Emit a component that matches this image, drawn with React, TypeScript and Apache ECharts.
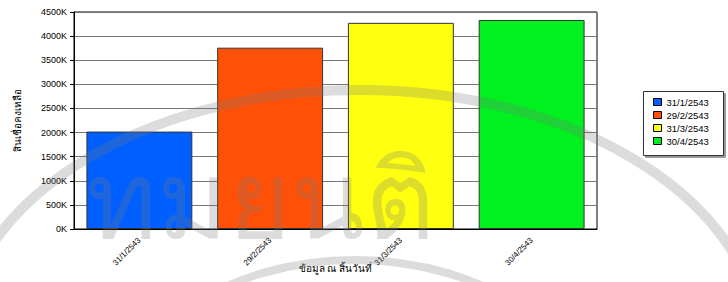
import React, { useEffect, useRef } from "react";
import * as echarts from "echarts";

const categories = ["31/1/2543", "29/2/2543", "31/3/2543", "30/4/2543"];
const seriesNames = ["31/1/2543", "29/2/2543", "31/3/2543", "30/4/2543"];
const values = [2020, 3760, 4275, 4335]; // in K
const colors = ["#0060ff", "#ff5008", "#ffff10", "#00f020"];
const yTicks = { min: 0, max: 4500, interval: 500 };
const yTitle = "สินเชื่อคงเหลือ";
const xTitle = "ข้อมูล ณ สิ้นวันที่";
const watermarkText = "ทมยนติ";

export default function App() {
  const ref = useRef<HTMLDivElement>(null);
  useEffect(() => {
    if (!ref.current) return;
    const chart = echarts.init(ref.current, null, { renderer: "svg" });
    const font = "Tahoma, 'Liberation Sans', Arial, sans-serif";
    const series = seriesNames.map((name, i) => ({
      name,
      type: "bar",
      stack: "all",
      barWidth: "81%",
      data: categories.map((_, j) => (j === i ? values[i] : null)),
      itemStyle: { color: colors[i], borderColor: "#333", borderWidth: 1 },
    }));
    const wm = "rgba(120,120,120,0.26)";
    chart.setOption({
      animation: false,
      backgroundColor: "#fff",
      grid: {
        left: 74, top: 12, right: 131, bottom: 53,
        outerBoundsMode: "none",
        containLabel: false,
        show: true, borderColor: "#000", borderWidth: 1, backgroundColor: "transparent",
      },
      xAxis: {
        type: "category",
        data: categories,
        name: xTitle,
        nameLocation: "middle",
        nameGap: 34,
        nameMoveOverlap: false,
        nameTextStyle: { fontSize: 10, color: "#000", fontFamily: font },
        axisLine: { lineStyle: { color: "#000" } },
        axisTick: { show: false },
        axisLabel: { rotate: 45, fontSize: 8, color: "#000", fontFamily: font, margin: 10 },
      },
      yAxis: {
        type: "value",
        min: yTicks.min,
        max: yTicks.max,
        interval: yTicks.interval,
        name: yTitle,
        nameLocation: "middle",
        nameGap: 52,
        nameMoveOverlap: false,
        nameTextStyle: { fontSize: 10, color: "#000", fontFamily: font },
        axisLine: { show: true, lineStyle: { color: "#000" } },
        axisTick: { show: true, length: 4, lineStyle: { color: "#000" } },
        splitLine: { lineStyle: { color: "#777", width: 1 } },
        axisLabel: { formatter: (v: number) => v + "K", fontSize: 9, color: "#000", fontFamily: font, margin: 7 },
      },
      legend: {
        orient: "vertical",
        left: 648,
        top: 92,
        itemWidth: 8,
        itemHeight: 7,
        itemGap: 3,
        icon: "rect",
        data: seriesNames,
        textStyle: { fontSize: 9.5, color: "#000", fontFamily: font, padding: [0, 0, 0, 0] },
        itemStyle: { borderColor: "#000", borderWidth: 1 },
      },
      graphic: [
        {
          type: "rect",
          left: 643,
          top: 91,
          z: -1,
          shape: { width: 80, height: 64 },
          style: { fill: "#fff", stroke: "#333", lineWidth: 1, shadowColor: "#999", shadowOffsetX: 2, shadowOffsetY: 2, shadowBlur: 0 },
        },
        {
          type: "ellipse",
          z: 100,
          silent: true,
          shape: { cx: 360, cy: 345, rx: 400, ry: 255 },
          style: { fill: "none", stroke: wm, lineWidth: 10 },
        },
        {
          type: "ellipse",
          z: 100,
          silent: true,
          shape: { cx: 355, cy: 430, rx: 240, ry: 170 },
          style: { fill: "none", stroke: wm, lineWidth: 8 },
        },
        {
          type: "text",
          z: 100,
          silent: true,
          x: 86,
          y: 146,
          style: { text: watermarkText, fill: wm, fontSize: 108, fontWeight: "normal", fontFamily: "sans-serif" },
        },
      ],
      series,
    });
    return () => chart.dispose();
  }, []);
  return <div ref={ref} style={{ position: "fixed", left: 0, top: 0, width: 728, height: 282 }} />;
}
